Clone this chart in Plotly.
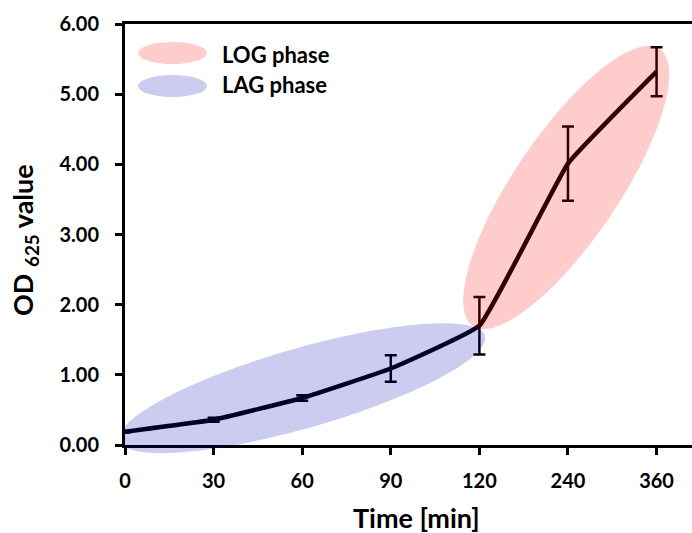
import numpy as np
import plotly.graph_objects as go

# Sampling times (minutes) and optical density readings
times = ["0", "30", "60", "90", "120", "240", "360"]
od625 = [0.19, 0.36, 0.67, 1.09, 1.70, 4.01, 5.32]
od_err = [0.01, 0.03, 0.04, 0.19, 0.41, 0.53, 0.35]

y_ticks = [0, 1, 2, 3, 4, 5, 6]
phase_labels = ["LOG phase", "LAG phase"]

# Figure geometry
W_FIG, H_FIG = 692, 533
M_L, M_R, M_T, M_B = 125, 0, 24, 88
PW, PH = W_FIG - M_L - M_R, H_FIG - M_T - M_B
X_RANGE = [0, 6.4]
Y_RANGE = [0, 6]

FONT = "Lato"
LOG_COLOR = "rgb(255,0,0)"
LAG_COLOR = "rgb(0,0,180)"
SHADE = 0.2


def px_to_paper(px, py):
    return (px - M_L) / PW, (H_FIG - M_B - py) / PH


def ellipse_path(cx, cy, a_px, b_px, angle_deg):
    """Rotated ellipse around a data-space centre, sized in pixels, in paper units."""
    t = np.linspace(0, 2 * np.pi, 160)
    th = np.radians(angle_deg)
    dx = a_px * np.cos(t) * np.cos(th) - b_px * np.sin(t) * np.sin(th)
    dy = a_px * np.cos(t) * np.sin(th) + b_px * np.sin(t) * np.cos(th)
    X = (cx - X_RANGE[0]) / (X_RANGE[1] - X_RANGE[0]) + dx / PW
    Y = (cy - Y_RANGE[0]) / (Y_RANGE[1] - Y_RANGE[0]) + dy / PH
    X = np.maximum(X, 0)  # keep the shading right of the value axis
    pts = " L ".join(f"{x:.5f},{y:.5f}" for x, y in zip(X, Y))
    return f"M {pts} Z"


fig = go.Figure()
fig.add_trace(go.Scatter(
    x=times, y=od625,
    mode="lines",
    line=dict(color="black", width=4.5, shape="spline", smoothing=0.3),
    error_y=dict(type="data", array=od_err, visible=True,
                 color="black", thickness=2.5, width=6),
    showlegend=False, hoverinfo="x+y",
))

shapes = [
    # lag phase region (0-120 min)
    dict(type="path", xref="paper", yref="paper",
         path=ellipse_path(2.0, 0.81, 190, 40, 16),
         fillcolor=LAG_COLOR, opacity=SHADE, line=dict(width=0), layer="above"),
    # log phase region (120-360 min)
    dict(type="path", xref="paper", yref="paper",
         path=ellipse_path(4.98, 3.67, 167, 52.5, 56),
         fillcolor=LOG_COLOR, opacity=SHADE, line=dict(width=0), layer="above"),
]

# legend keys
for (py0, py1), col in zip([(42, 64), (75, 97)], [LOG_COLOR, LAG_COLOR]):
    x0, y1 = px_to_paper(138, py0)
    x1, y0 = px_to_paper(207, py1)
    shapes.append(dict(type="circle", xref="paper", yref="paper",
                       x0=x0, x1=x1, y0=y0, y1=y1,
                       fillcolor=col, opacity=SHADE, line=dict(width=0),
                       layer="above"))

annotations = []
for label, py in zip(phase_labels, [54, 84]):
    x, y = px_to_paper(220, py)
    annotations.append(dict(text=label, xref="paper", yref="paper", x=x, y=y,
                            xanchor="left", yanchor="middle", showarrow=False,
                            font=dict(family=FONT, size=22, color="black",
                                      weight="bold")))

tx, ty = px_to_paper(416, 517)
annotations.append(dict(text="Time [min]", xref="paper", yref="paper",
                        x=tx, y=ty, xanchor="center", yanchor="middle",
                        showarrow=False,
                        font=dict(family=FONT, size=27, color="black",
                                  weight="bold")))
ox, oy = px_to_paper(25, 240)
annotations.append(dict(text="OD <sub>625</sub> value", xref="paper", yref="paper",
                        x=ox, y=oy, xanchor="center", yanchor="middle",
                        textangle=-90, showarrow=False,
                        font=dict(family=FONT, size=27, color="black",
                                  weight="bold")))

fig.update_layout(
    width=W_FIG, height=H_FIG,
    margin=dict(l=M_L, r=M_R, t=M_T, b=M_B, pad=0),
    paper_bgcolor="white", plot_bgcolor="white",
    shapes=shapes, annotations=annotations,
    font=dict(family=FONT, color="black"),
)
fig.update_xaxes(
    type="category", range=X_RANGE,
    showline=True, linecolor="black", linewidth=3, mirror=True,
    ticks="outside", ticklen=7, tickwidth=3, tickcolor="black",
    tickfont=dict(family=FONT, size=20, color="black", weight="bold"),
    ticklabelstandoff=9,
    showgrid=False, zeroline=False,
)
fig.update_yaxes(
    range=Y_RANGE, tickvals=y_ticks, tickformat=".2f",
    showline=True, linecolor="black", linewidth=3,
    ticks="outside", ticklen=7, tickwidth=3, tickcolor="black",
    tickfont=dict(family=FONT, size=20, color="black", weight="bold"),
    ticklabelstandoff=12,
    showgrid=False, zeroline=False,
)

fig.write_html("out.html")
